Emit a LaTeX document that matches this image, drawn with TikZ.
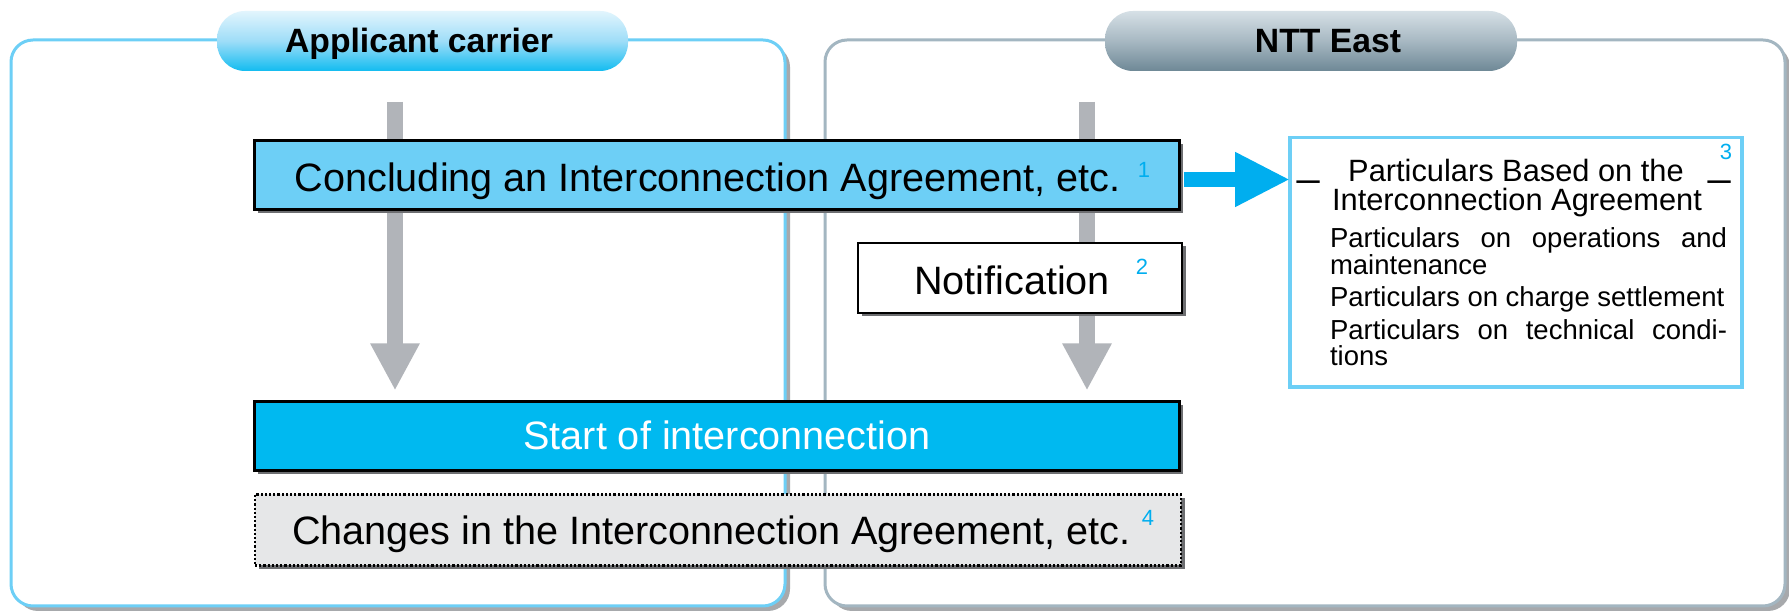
\documentclass[tikz,border=0pt]{standalone}
\usepackage{fontspec}
\setmainfont{Liberation Sans}
\usetikzlibrary{arrows.meta,shadows,calc}
\definecolor{lblue}{HTML}{6DCFF6}
\definecolor{cyanfill}{HTML}{00B9F0}
\definecolor{arrowblue}{HTML}{00AEEF}
\definecolor{arrowgray}{HTML}{B1B4B9}
\definecolor{rpanel}{HTML}{A3B6C1}
\definecolor{shadowgray}{HTML}{A7A9AC}
\definecolor{shadowdark}{HTML}{6D6E71}
\definecolor{chgfill}{HTML}{E6E7E8}
\definecolor{tabLtop}{HTML}{E2F5FD}
\definecolor{tabLmid}{HTML}{9EDDF8}
\definecolor{tabLbot}{HTML}{12BCF0}
\definecolor{tabRtop}{HTML}{D6E0E6}
\definecolor{tabRmid}{HTML}{A7B8C2}
\definecolor{tabRbot}{HTML}{6E8896}
\newcommand\fsbig{\fontsize{19.8pt}{23pt}\selectfont}
\newcommand\fstab{\fontsize{16.85pt}{20pt}\selectfont\bfseries}
\newcommand\fshead{\fontsize{15.4pt}{18pt}\selectfont}
\newcommand\fsbody{\fontsize{13.75pt}{13.25pt}\selectfont}
\newcommand\fssup{\fontsize{11pt}{13pt}\selectfont}
\pgfdeclarelayer{bg}
\pgfsetlayers{bg,main}
\begin{document}
\begin{tikzpicture}[x=0.5pt,y=-0.5pt,
  panelstyle/.style={line width=1.5pt, rounded corners=11pt, fill=white,
    drop shadow={shadow xshift=2.5pt, shadow yshift=-2.5pt, fill=shadowgray, opacity=1}},
  tabstyle/.style={rounded corners=14pt, minimum width=205.5pt, minimum height=30pt, inner sep=0pt},
  boxshadow/.style={drop shadow={shadow xshift=1.75pt, shadow yshift=-1.75pt, fill=shadowdark, opacity=1}},
  flowbox/.style={draw=black, inner sep=0pt, outer sep=0pt, boxshadow},
  txt/.style={inner sep=0pt, outer sep=0pt, anchor=base},
  supnum/.style={inner sep=0pt, outer sep=0pt, text=arrowblue, font=\fssup},
  grayarrow/.style={draw=arrowgray, line width=8pt, -{Triangle[width=23pt,length=23.5pt]}, shorten >=5.5pt},
  bluearrow/.style={draw=arrowblue, line width=7.5pt, -{Triangle[width=25.5pt,length=27.5pt]}, shorten <=2pt}
]
\useasboundingbox (0,0) rectangle (1789,613);

% panels
\begin{pgfonlayer}{bg}
\fill[white] (0,0) rectangle (1789,613);
\draw[panelstyle, draw=lblue] (11,40) rectangle (785,606);
\draw[panelstyle, draw=rpanel] (825,40) rectangle (1785,606);
\end{pgfonlayer}

% tabs
\node[tabstyle, top color=tabLtop, bottom color=tabLbot, middle color=tabLmid] (tabL) at (422.5,41) {};
\node[txt, font=\fstab] (tabLt) at (419,53) {Applicant carrier};
\node[tabstyle, minimum width=206pt, top color=tabRtop, bottom color=tabRbot, middle color=tabRmid] (tabR) at (1311,41) {};
\node[txt, font=\fstab] (tabRt) at (1328,53) {NTT East};

% flow boxes
\node[flowbox, line width=1.5pt, fill=lblue, minimum width=462.5pt, minimum height=34.5pt] (conc) at (717,175) {};
\node[txt, font=\fsbig] (conct) at (707.5,192) {Concluding an Interconnection Agreement, etc.};
\node[supnum] (sup1) at (1144,170) {1};

\node[flowbox, line width=1pt, fill=white, minimum width=162pt, minimum height=35pt] (notif) at (1020,278) {};
\node[txt, font=\fsbig] (notift) at (1012,295) {Notification};
\node[supnum] (sup2) at (1142,267) {2};

\node[flowbox, line width=1.5pt, fill=cyanfill, minimum width=462.5pt, minimum height=34.5pt] (start) at (717,436) {};
\node[txt, font=\fsbig, text=white] (startt) at (727,450) {Start of interconnection};

\node[draw=black, line width=1.1pt, densely dotted, fill=chgfill, inner sep=0pt, outer sep=0pt, minimum width=463pt, minimum height=35.5pt, boxshadow] (chg) at (718,530) {};
\node[txt, font=\fsbig] (chgt) at (711.5,545) {Changes in the Interconnection Agreement, etc.};
\node[supnum] (sup4) at (1148,518) {4};

% particulars box
\node[draw=lblue, line width=1.75pt, fill=white, inner sep=0pt, outer sep=0pt, minimum width=226pt, minimum height=124.75pt] (part) at (1516,262.5) {};
\node[txt, font=\fshead] (ph1) at (1516,182) {Particulars Based on the};
\node[txt, font=\fshead] (ph2) at (1517,211) {Interconnection Agreement};
\node[txt, font=\fontsize{20pt}{24pt}\selectfont] (dl) at (1309,176) {\_};
\node[txt, font=\fontsize{20pt}{24pt}\selectfont] (dr) at (1720,176) {\_};
\node[supnum] (sup3) at (1726,152) {3};
\node[inner sep=0pt, outer sep=0pt, anchor=base west] (body) at (1330,248)
  {\parbox[t]{198.5pt}{\fsbody\setlength{\parskip}{3pt}\setlength{\parindent}{0pt}%
   Particulars on operations and\linebreak maintenance\par
   Particulars on charge settlement\par
   Particulars on technical condi-\linebreak tions}};

% connectors
\coordinate (ltop) at (395,102);
\coordinate (rtop) at (1087,102);
\begin{pgfonlayer}{bg}
\draw[grayarrow, line cap=butt] (ltop) -- (start.north -| ltop);
\draw[grayarrow, line cap=butt] (rtop) -- (start.north -| rtop);
\end{pgfonlayer}
\draw[bluearrow] ([yshift=-2.25pt]conc.east) -- ([yshift=-2.25pt]conc.east -| part.west);
\end{tikzpicture}
\end{document}
